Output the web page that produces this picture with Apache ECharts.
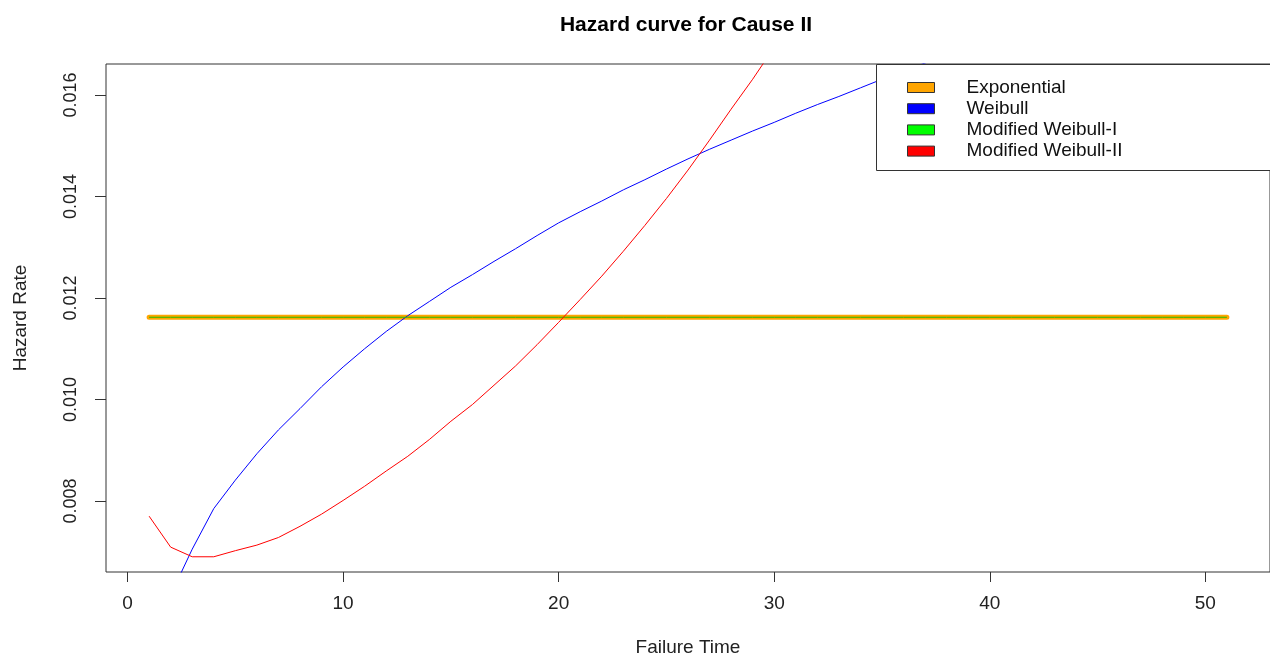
<!doctype html>
<html lang="en">
<head>
    <meta charset="UTF-8">
    <title>Hazard curve for Cause II</title>
    <style>
        html, body {margin: 0; padding: 0; background: #fff;}
        #main {width: 1270px; height: 660px;}
    </style>
</head>
<body>
<div id="main"></div>
<script type="text/javascript" src="https://cdn.jsdelivr.net/npm/echarts@6/dist/echarts.min.js"></script>
<script type="text/javascript">
    // values
    var failureTime = [1, 2, 3, 4, 5, 6, 7, 8, 9, 10, 11, 12, 13, 14, 15, 16, 17, 18, 19, 20,
        21, 22, 23, 24, 25, 26, 27, 28, 29, 30, 31, 32, 33, 34, 35, 36, 37, 38, 39, 40,
        41, 42, 43, 44, 45, 46, 47, 48, 49, 50, 51];
    var exponential = [0.01162, 0.01162, 0.01162, 0.01162, 0.01162, 0.01162, 0.01162, 0.01162, 0.01162, 0.01162,
        0.01162, 0.01162, 0.01162, 0.01162, 0.01162, 0.01162, 0.01162, 0.01162, 0.01162, 0.01162,
        0.01162, 0.01162, 0.01162, 0.01162, 0.01162, 0.01162, 0.01162, 0.01162, 0.01162, 0.01162,
        0.01162, 0.01162, 0.01162, 0.01162, 0.01162, 0.01162, 0.01162, 0.01162, 0.01162, 0.01162,
        0.01162, 0.01162, 0.01162, 0.01162, 0.01162, 0.01162, 0.01162, 0.01162, 0.01162, 0.01162, 0.01162];
    var modWeibull1 = exponential.slice();
    var weibull = [0.00486, 0.00615, 0.00705, 0.00785, 0.00841, 0.00893, 0.00940, 0.00982, 0.01025, 0.01064,
        0.01100, 0.01134, 0.01165, 0.01193, 0.01221, 0.01246, 0.01272, 0.01297, 0.01323, 0.01348,
        0.01370, 0.01391, 0.01413, 0.01433, 0.01454, 0.01474, 0.01493, 0.01511, 0.01529, 0.01546,
        0.01564, 0.01581, 0.01597, 0.01614, 0.01631, 0.01647, 0.01663, 0.01679];
    var modWeibull2 = [0.00770, 0.00709, 0.00690, 0.00690, 0.00702, 0.00713, 0.00728, 0.00750, 0.00774, 0.00801,
        0.00829, 0.00859, 0.00888, 0.00921, 0.00957, 0.00990, 0.01028, 0.01066, 0.01108, 0.01152,
        0.01197, 0.01243, 0.01292, 0.01343, 0.01396, 0.01452, 0.01511, 0.01572, 0.01631, 0.01694];
    var xTicks = [0, 10, 20, 30, 40, 50];
    var yTicks = [0.008, 0.010, 0.012, 0.014, 0.016];

    function pairs(ys) {
        return ys.map(function (v, i) { return [failureTime[i], v]; });
    }

    var font = 'Liberation Sans, Arial, sans-serif';
    var myChart = echarts.init(document.getElementById('main'));
    var option = {
        animation: false,
        title: {
            text: 'Hazard curve for Cause II',
            left: 681,
            top: 10,
            textAlign: 'center',
            textStyle: {fontFamily: font, fontSize: 21, fontWeight: 'bold', color: '#000'}
        },
        grid: {
            left: 106, top: 64, right: 0, bottom: 88,
            outerBoundsMode: 'none',
            show: true, borderColor: '#333', borderWidth: 1, backgroundColor: 'transparent'
        },
        legend: {
            orient: 'vertical',
            left: 902,
            top: 72,
            z: 20,
            icon: 'rect',
            itemWidth: 27,
            itemHeight: 10,
            itemGap: 0.2,
            textStyle: {fontFamily: font, fontSize: 19, lineHeight: 21, color: '#111', padding: [0, 0, 0, 27]},
            data: [
                {name: 'Exponential', itemStyle: {color: '#FFA500', borderColor: '#333', borderWidth: 1}},
                {name: 'Weibull', itemStyle: {color: '#0000FF', borderColor: '#333', borderWidth: 1}},
                {name: 'Modified Weibull-I', itemStyle: {color: '#00FF00', borderColor: '#333', borderWidth: 1}},
                {name: 'Modified Weibull-II', itemStyle: {color: '#FF0000', borderColor: '#333', borderWidth: 1}}
            ]
        },
        graphic: [{
            type: 'rect',
            z: 10,
            shape: {x: 876.5, y: 64.5, width: 400, height: 106},
            style: {fill: '#fff', stroke: '#333', lineWidth: 1}
        }],
        xAxis: {
            type: 'value',
            min: -1,
            max: 53,
            name: 'Failure Time',
            nameLocation: 'middle',
            nameGap: 66,
            nameTextStyle: {fontFamily: font, fontSize: 19, color: '#222'},
            axisLine: {show: false, onZero: false},
            splitLine: {show: false},
            axisTick: {show: true, length: 10, customValues: xTicks, lineStyle: {color: '#333'}},
            axisLabel: {customValues: xTicks, margin: 22, fontFamily: font, fontSize: 19, color: '#222'}
        },
        yAxis: {
            type: 'value',
            min: 0.0066,
            max: 0.01661,
            name: 'Hazard Rate',
            nameLocation: 'middle',
            nameGap: 76,
            nameTextStyle: {fontFamily: font, fontSize: 19, color: '#222'},
            axisLine: {show: false, onZero: false},
            splitLine: {show: false},
            axisTick: {show: true, length: 11, customValues: yTicks, lineStyle: {color: '#333'}},
            axisLabel: {
                customValues: yTicks, rotate: 90, margin: 26,
                fontFamily: font, fontSize: 18, color: '#222',
                formatter: function (v) { return v.toFixed(3); }
            }
        },
        series: [
            {name: 'Exponential', type: 'line', data: pairs(exponential), showSymbol: false,
                lineStyle: {color: '#FFA500', width: 5, cap: 'round'}, itemStyle: {color: '#FFA500'}},
            {name: 'Weibull', type: 'line', data: pairs(weibull), showSymbol: false,
                lineStyle: {color: '#0000FF', width: 1}, itemStyle: {color: '#0000FF'}},
            {name: 'Modified Weibull-I', type: 'line', data: pairs(modWeibull1), showSymbol: false,
                lineStyle: {color: '#22C000', width: 1}, itemStyle: {color: '#00FF00'}},
            {name: 'Modified Weibull-II', type: 'line', data: pairs(modWeibull2), showSymbol: false,
                lineStyle: {color: '#FF0000', width: 1}, itemStyle: {color: '#FF0000'}}
        ]
    };
    myChart.setOption(option);
</script>
</body>
</html>
